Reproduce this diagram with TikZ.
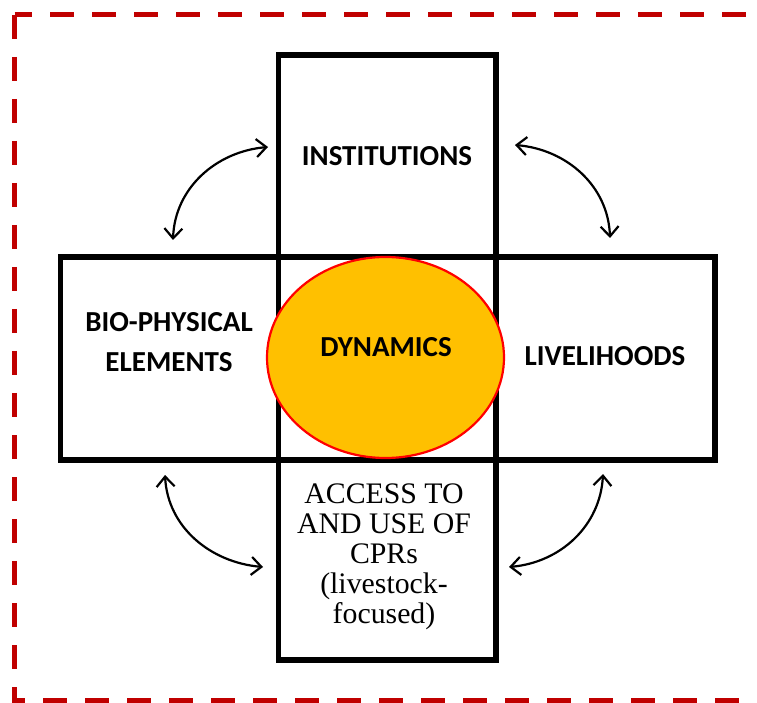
\documentclass[tikz,border=0pt]{standalone}
\usepackage{fontspec}
\setmainfont{Liberation Serif}
\newfontfamily\calib{Carlito}
\usetikzlibrary{arrows.meta,shapes.geometric}
\definecolor{borderred}{HTML}{C00000}
\definecolor{dynfill}{HTML}{FFC000}
\begin{document}
\begin{tikzpicture}[x=1pt,y=1pt,
  boxline/.style={draw=black,line width=5.5pt,inner sep=0pt,outer sep=0pt},
  lbl/.style={font=\calib\bfseries\fontsize{29}{40}\selectfont,align=center,inner sep=0pt},
  serifl/.style={font=\fontsize{29.8}{30}\selectfont,align=center,inner sep=0pt},
  twoway/.style={{Straight Barb[length=10pt,width=18pt]}-{Straight Barb[length=10pt,width=18pt]},line width=2.2pt},
  frame/.style={draw=borderred,line width=5pt,dash pattern=on 24pt off 18pt}
]
\useasboundingbox (0,0) rectangle (757,702);
\begin{scope}
  \clip (0,0) rectangle (757,702);
  \draw[frame,dash phase=6.5pt] (14.5,687) -- (800,687);
  \draw[frame] (14.5,687) -- (14.5,1.5) -- (800,1.5);
\end{scope}
% boxes
\node[boxline,minimum width=217.5pt,minimum height=605pt] (vbox) at (387.25,344.5) {};
\node[boxline,minimum width=654.5pt,minimum height=203pt] (hbox) at (387.75,343.5) {};
% ellipse
\node[ellipse,draw=red,line width=2.2pt,fill=dynfill,minimum width=237pt,minimum height=201pt,inner sep=0pt] (dyn) at (385.5,344.5) {};
% labels
\node[lbl] (inst) at (387,546) {INSTITUTIONS};
\node[lbl] (bio) at (169,359.5) {BIO-PHYSICAL\\ELEMENTS};
\node[lbl] (live) at (605,346) {LIVELIHOODS};
\node[lbl] (dyntext) at (386,355) {DYNAMICS};
\node[serifl] (access) at (384,145) {ACCESS TO\\AND USE OF\\CPRs\\(livestock-\\focused)};
% arrow end points
\coordinate (a1a) at (268,555);
\coordinate (a1b) at (173,462);
\coordinate (a2a) at (515,557);
\coordinate (a2b) at (610,464);
\coordinate (a3a) at (165,227);
\coordinate (a3b) at (263,135);
\coordinate (a4a) at (603,228);
\coordinate (a4b) at (509,135);
\draw[twoway] (a1b) to[out=88,in=185] (a1a);
\draw[twoway] (a2a) to[out=-5,in=92] (a2b);
\draw[twoway] (a3a) to[out=-87,in=175] (a3b);
\draw[twoway] (a4a) to[out=-93,in=5] (a4b);
\end{tikzpicture}
\end{document}
